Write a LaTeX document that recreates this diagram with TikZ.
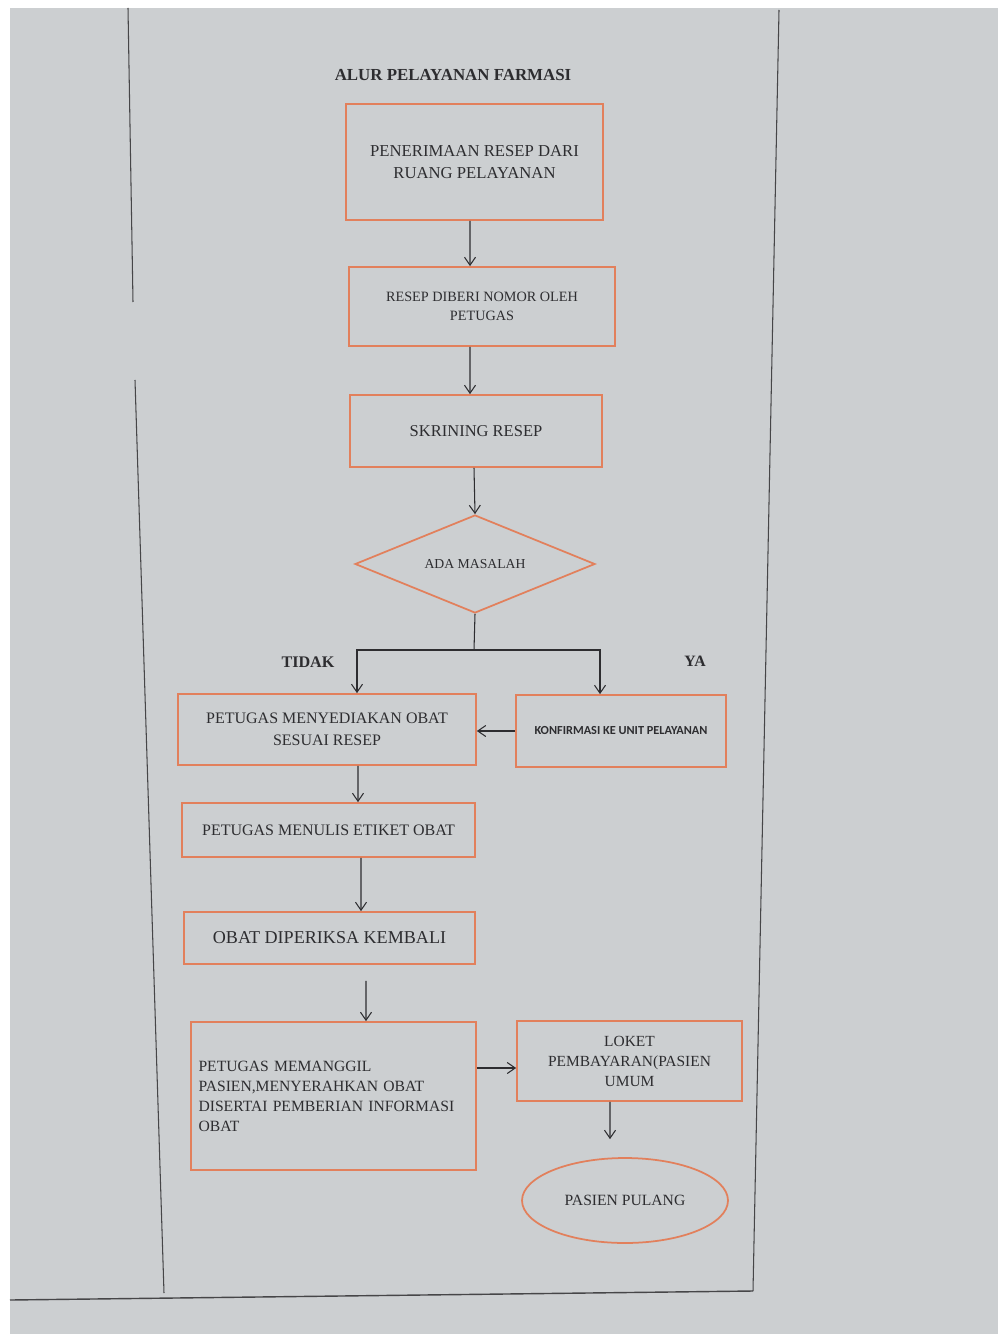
\documentclass[tikz,border=0pt]{standalone}
\usepackage{fontspec}
\setmainfont{Liberation Serif}
\newfontfamily\konffont{Carlito}
\usetikzlibrary{shapes.geometric,arrows.meta}
\definecolor{kertas}{RGB}{204,207,209}
\definecolor{oranye}{RGB}{226,128,92}
\definecolor{tinta}{RGB}{45,45,48}
\definecolor{garis}{RGB}{70,70,72}

\newcommand{\huruf}[2]{\fontsize{#1}{#2}\selectfont}

\tikzset{
  kotak/.style={draw=oranye,line width=1pt,rectangle,inner sep=2pt,align=center,text=tinta},
  panah/.style={draw=tinta,line width=0.6pt,-{Straight Barb[length=1.6mm,width=2.2mm]}},
}

\begin{document}
\begin{tikzpicture}[x=0.02cm,y=-0.02cm]
\useasboundingbox (0,0) rectangle (998,1334);
% kertas
\fill [white] (0,0) rectangle (998,1334);
\fill [kertas] (10,8) rectangle (998,1334);
\draw [garis,line width=0.6pt] (128,8) -- (133,302);
\draw [garis,line width=0.6pt] (135,380) -- (164,1293);
\draw [garis,line width=0.6pt] (779,10) -- (753,1291);
\draw [garis,line width=0.8pt] (10,1300) -- (753,1291);

\node [text=tinta,font=\bfseries\huruf{9.6}{11}] (judul) at (453,75) {ALUR PELAYANAN FARMASI};
\node [kotak,minimum width=5.14cm,minimum height=2.32cm,font=\huruf{9.5}{12.5}] (terima) at (474.5,162)
{PENERIMAAN RESEP DARI\\RUANG PELAYANAN};
\node [kotak,minimum width=5.32cm,minimum height=1.58cm,font=\huruf{8.1}{10.8}] (nomor) at (482,306.5)
{RESEP DIBERI NOMOR OLEH\\PETUGAS};
\node [kotak,minimum width=5.04cm,minimum height=1.44cm,font=\huruf{9.4}{11}] (skrining) at (476,431)
{SKRINING RESEP};
\node [kotak,diamond,aspect=2.45,minimum width=4.8cm,minimum height=1.96cm,inner sep=0pt,font=\huruf{7.8}{9}] (masalah) at (475,564)
{ADA MASALAH};
\coordinate (cabang) at (474,650);
\node [text=tinta,font=\bfseries\huruf{9.2}{11}] (tidak) at (308,662) {TIDAK};
\node [text=tinta,font=\bfseries\huruf{9}{11}] (ya) at (695,661) {YA};
\node [kotak,minimum width=5.96cm,minimum height=1.42cm,font=\huruf{9.1}{12.5}] (sedia) at (327,729.5)
{PETUGAS MENYEDIAKAN OBAT\\SESUAI RESEP};
\node [kotak,minimum width=4.2cm,minimum height=1.44cm,font=\konffont\bfseries\huruf{7}{8}] (konfirmasi) at (621,731)
{KONFIRMASI KE UNIT PELAYANAN};
\node [kotak,minimum width=5.86cm,minimum height=1.08cm,font=\huruf{9.1}{11}] (etiket) at (328.5,830)
{PETUGAS MENULIS ETIKET OBAT};
\node [kotak,minimum width=5.82cm,minimum height=1.04cm,font=\huruf{10.3}{12}] (periksa) at (329.5,938)
{OBAT DIPERIKSA KEMBALI};
\node [kotak,text width=5.4cm,inner xsep=0.15cm,align=left,minimum height=2.96cm,font=\huruf{8.9}{11.4}] (panggil) at (333.5,1096)
{PETUGAS MEMANGGIL\\PASIEN,MENYERAHKAN OBAT\\DISERTAI PEMBERIAN INFORMASI\\OBAT};
\node [kotak,minimum width=4.5cm,minimum height=1.6cm,font=\huruf{8.8}{11.4}] (loket) at (629.5,1061)
{LOKET\\PEMBAYARAN(PASIEN\\UMUM};
\node [kotak,ellipse,minimum width=4.12cm,minimum height=1.7cm,font=\huruf{8.9}{11}] (pulang) at (625,1200.5)
{PASIEN PULANG};

\draw [panah] ([xshift=-0.09cm]terima.south) -- ([xshift=-0.24cm]nomor.north);
\draw [panah] ([xshift=-0.24cm]nomor.south) -- ([xshift=-0.12cm]skrining.north);
\draw [panah] ([xshift=-0.04cm]skrining.south) -- (masalah.north);
\draw [tinta,line width=0.6pt] (masalah.south) -- (cabang);
\draw [panah] (cabang) -| ([xshift=0.6cm]sedia.north);
\draw [panah] (cabang) -| ([xshift=-0.42cm]konfirmasi.north);
\draw [panah] (konfirmasi.west) -- (konfirmasi.west -| sedia.east);
\draw [panah] ([xshift=0.62cm]sedia.south) -- ([xshift=0.59cm]etiket.north);
\draw [panah] ([xshift=0.65cm]etiket.south) -- ([xshift=0.63cm]periksa.north);
\draw [panah] ([xshift=0.73cm,yshift=-0.32cm]periksa.south) -- ([xshift=0.65cm]panggil.north);
\draw [panah] ([yshift=0.56cm]panggil.east) -- ([yshift=0.56cm]panggil.east -| loket.west);
\draw [panah] ([xshift=-0.39cm]loket.south) -- ([xshift=-0.3cm,yshift=0.36cm]pulang.north);
\end{tikzpicture}
\end{document}
